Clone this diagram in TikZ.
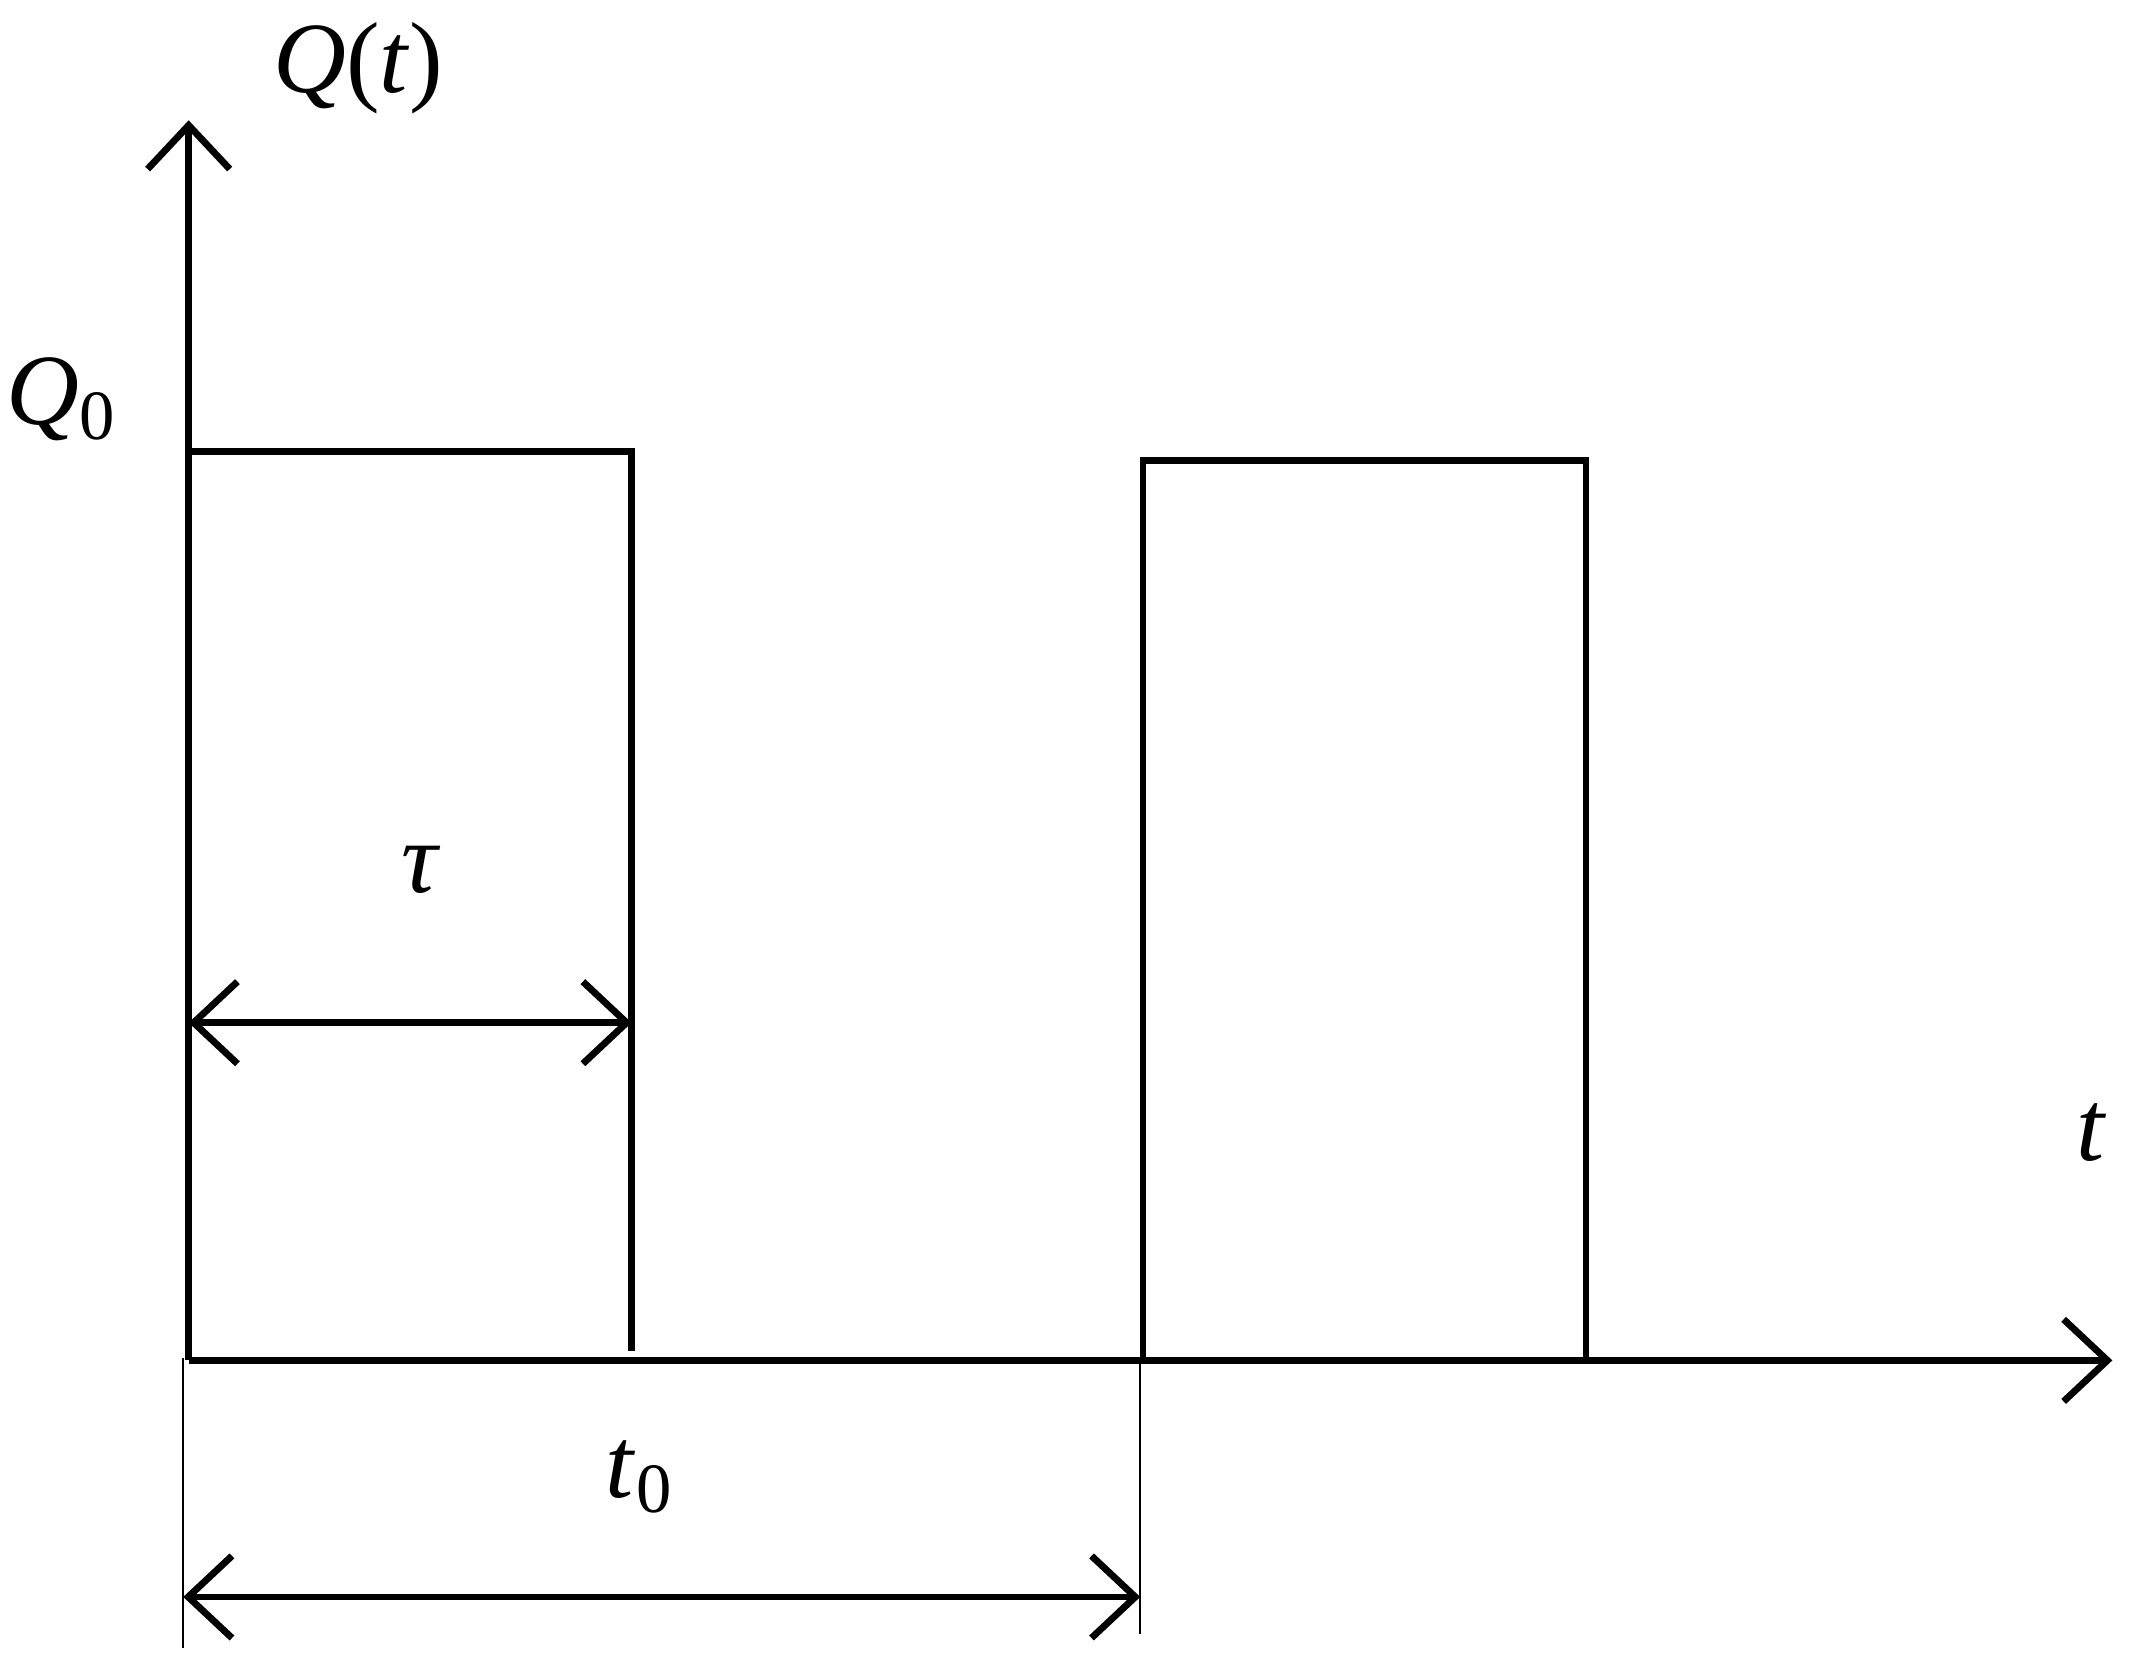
\documentclass[tikz,border=0pt]{standalone}
\usepackage{fontspec}
\setmainfont{Liberation Serif}
\usetikzlibrary{arrows.meta}
\begin{document}
\begin{tikzpicture}[x=0.01cm,y=-0.01cm,
  thick line/.style={line width=0.05cm},
  thin line/.style={line width=0.015cm},
  tip/.style={-{Straight Barb[length=0.32cm,width=0.6cm,line width=0.05cm]}},
  tips/.style={{Straight Barb[length=0.32cm,width=0.6cm,line width=0.05cm]}-{Straight Barb[length=0.32cm,width=0.6cm,line width=0.05cm]}},
  lab/.style={font=\fontsize{21}{24}\selectfont}]
\useasboundingbox (0,0) rectangle (1563,1219);
\coordinate (O) at (138,995);
\coordinate (Ytip) at (138,88);
\coordinate (Xtip) at (1545,995);
\draw[thick line,tip] (O) -- (Ytip);
\draw[thick line,tip] (O) -- (Xtip);
\coordinate (p1a) at (138,330); \coordinate (p1b) at (462,330); \coordinate (p1c) at (462,988);
\draw[thick line] (p1a) -- (p1b) -- (p1c);
\coordinate (p2a) at (836,995); \coordinate (p2b) at (836,337); \coordinate (p2c) at (1160,337); \coordinate (p2d) at (1160,995);
\draw[thick line] (p2a) -- (p2b) -- (p2c) -- (p2d);
\coordinate (ta) at (138,748); \coordinate (tb) at (462,748);
\draw[thick line,tips] (ta) -- (tb);
\coordinate (l1a) at (134,993); \coordinate (l1b) at (134,1205);
\coordinate (l2a) at (834,995); \coordinate (l2b) at (834,1195);
\draw[thin line] (l1a) -- (l1b);
\draw[thin line] (l2a) -- (l2b);
\coordinate (sa) at (134,1168); \coordinate (sb) at (834,1168);
\draw[thick line,tips] (sa) -- (sb);
\node[lab] (Qt) at (262,50) {\textit{Q}(\textit{t})};
\node[lab] (Q0) at (45,292) {\textit{Q}$_{\mathrm{0}}$};
\node[lab] (tt) at (1530,828) {\textit{t}};
\node[lab] (tau) at (308,636) {\textit{τ}};
\node[lab] (t0) at (468,1080) {\textit{t}$_{\mathrm{0}}$};
\end{tikzpicture}
\end{document}
